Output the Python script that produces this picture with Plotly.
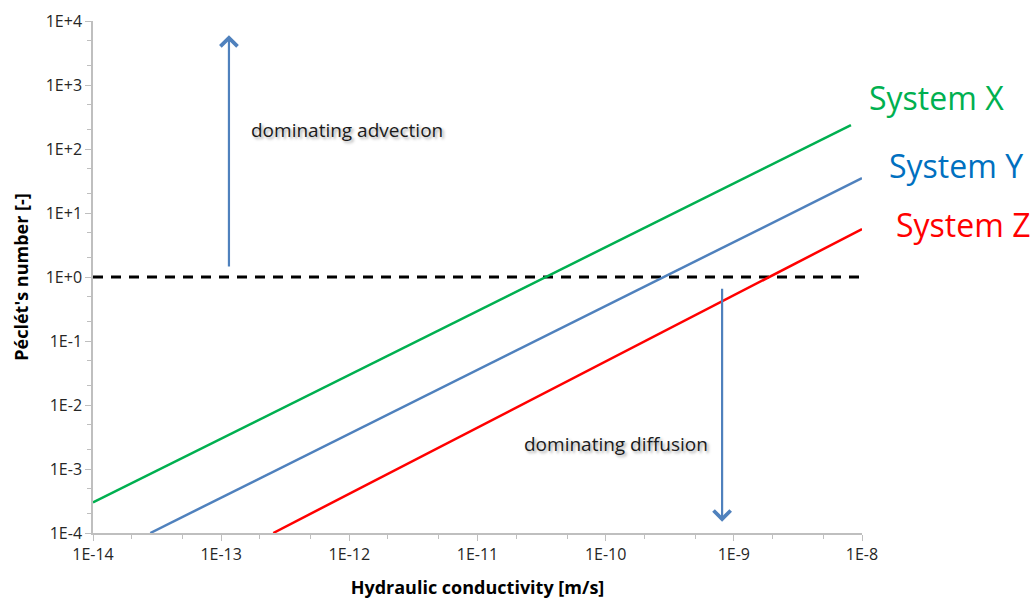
import plotly.graph_objects as go
import numpy as np

# --- data ---
x_X = [1e-14, 8.2e-9]
y_X = [3.0e-4, 237]
x_Y = [2.8e-14, 1e-8]
y_Y = [1e-4, 35]
x_Z = [2.55e-13, 1e-8]
y_Z = [1e-4, 5.6]
x_ref = [1e-14, 1e-8]
y_ref = [1, 1]

x_ticks = [1e-14, 1e-13, 1e-12, 1e-11, 1e-10, 1e-9, 1e-8]
x_ticktext = ["1E-14", "1E-13", "1E-12", "1E-11", "1E-10", "1E-9", "1E-8"]
y_ticks = [1e-4, 1e-3, 1e-2, 1e-1, 1e0, 1e1, 1e2, 1e3, 1e4]
y_ticktext = ["1E-4", "1E-3", "1E-2", "1E-1", "1E+0", "1E+1", "1E+2", "1E+3", "1E+4"]

series_names = ["System X", "System Y", "System Z"]
series_colors = ["#00B050", "#4F81BD", "#FF0000"]
label_colors = ["#00B050", "#0070C0", "#FF0000"]
label_y = [630, 56, 6.5]
label_xpaper = [1.007, 1.032, 1.041]

# arrows: (x, tail y, head y)
arrow_up = (1.15e-13, 1.38, 6000)
arrow_down = (8.1e-10, 0.69, 1.5e-4)
text_adv = ("dominating advection", 1.66e-13, 200)
text_dif = ("dominating diffusion", 2.24e-11, 2.45e-3)

FONT = "Open Sans"

fig = go.Figure()
fig.add_trace(go.Scatter(x=x_ref, y=y_ref, mode="lines",
                         line=dict(color="black", width=3, dash="10px,8px"),
                         showlegend=False, hoverinfo="skip"))
for xs, ys, nm, c in zip([x_X, x_Y, x_Z], [y_X, y_Y, y_Z], series_names, series_colors):
    fig.add_trace(go.Scatter(x=xs, y=ys, mode="lines", name=nm,
                             line=dict(color=c, width=2.5), showlegend=False))

ann = []
for nm, c, ly, lx in zip(series_names, label_colors, label_y, label_xpaper):
    ann.append(dict(text=nm, xref="paper", x=lx, yref="y", y=np.log10(ly),
                    xanchor="left", yanchor="middle", showarrow=False,
                    font=dict(family=FONT, size=32, color=c)))

for (ax_, ty, hy) in [arrow_up, arrow_down]:
    ann.append(dict(x=np.log10(ax_), y=np.log10(hy), ax=np.log10(ax_), ay=np.log10(ty),
                    xref="x", yref="y", axref="x", ayref="y", text="",
                    showarrow=True, arrowhead=4, arrowsize=1.5, arrowwidth=2.2,
                    arrowcolor="#4F81BD"))

for (t, tx, ty) in [text_adv, text_dif]:
    ann.append(dict(text=t, x=np.log10(tx), y=np.log10(ty), xref="x", yref="y",
                    xanchor="left", yanchor="middle", showarrow=False,
                    font=dict(family=FONT, size=19, color="#1a1a1a",
                              shadow="2px 2px 3px rgba(0,0,0,0.35)")))

fig.update_layout(
    width=1032, height=599,
    margin=dict(l=93, r=170, t=21, b=66),
    paper_bgcolor="white", plot_bgcolor="white",
    font=dict(family=FONT, size=15, color="#262626"),
    annotations=ann,
    showlegend=False,
)
axis_common = dict(showline=True, linecolor="#BFBFBF", linewidth=1.5,
                   ticks="outside", ticklen=6, tickcolor="#BFBFBF", tickwidth=1,
                   showgrid=False, zeroline=False, automargin=False,
                   minor=dict(ticks="outside", ticklen=4, tickcolor="#BFBFBF", showgrid=False),
                   tickfont=dict(family=FONT, size=16, color="#262626"))
fig.update_xaxes(type="log", range=[-14, -8], tickvals=x_ticks, ticktext=x_ticktext,
                 title=dict(text="<b>Hydraulic conductivity [m/s]</b>",
                            font=dict(family=FONT, size=18, color="#000000"), standoff=17),
                 **axis_common)
fig.update_yaxes(type="log", range=[-4, 4], tickvals=y_ticks, ticktext=y_ticktext,
                 title=dict(text="<b>Péclét's number [-]</b>",
                            font=dict(family=FONT, size=18, color="#000000"), standoff=12),
                 **axis_common)

fig.write_html("out.html", config={"displayModeBar": False})

# remove default page margin so the figure sits at the window's top-left corner
with open("out.html", "r", encoding="utf-8") as f:
    html = f.read()
html = html.replace("<head>", "<head><style>html,body{margin:0;padding:0;overflow:hidden}</style>", 1)
with open("out.html", "w", encoding="utf-8") as f:
    f.write(html)
